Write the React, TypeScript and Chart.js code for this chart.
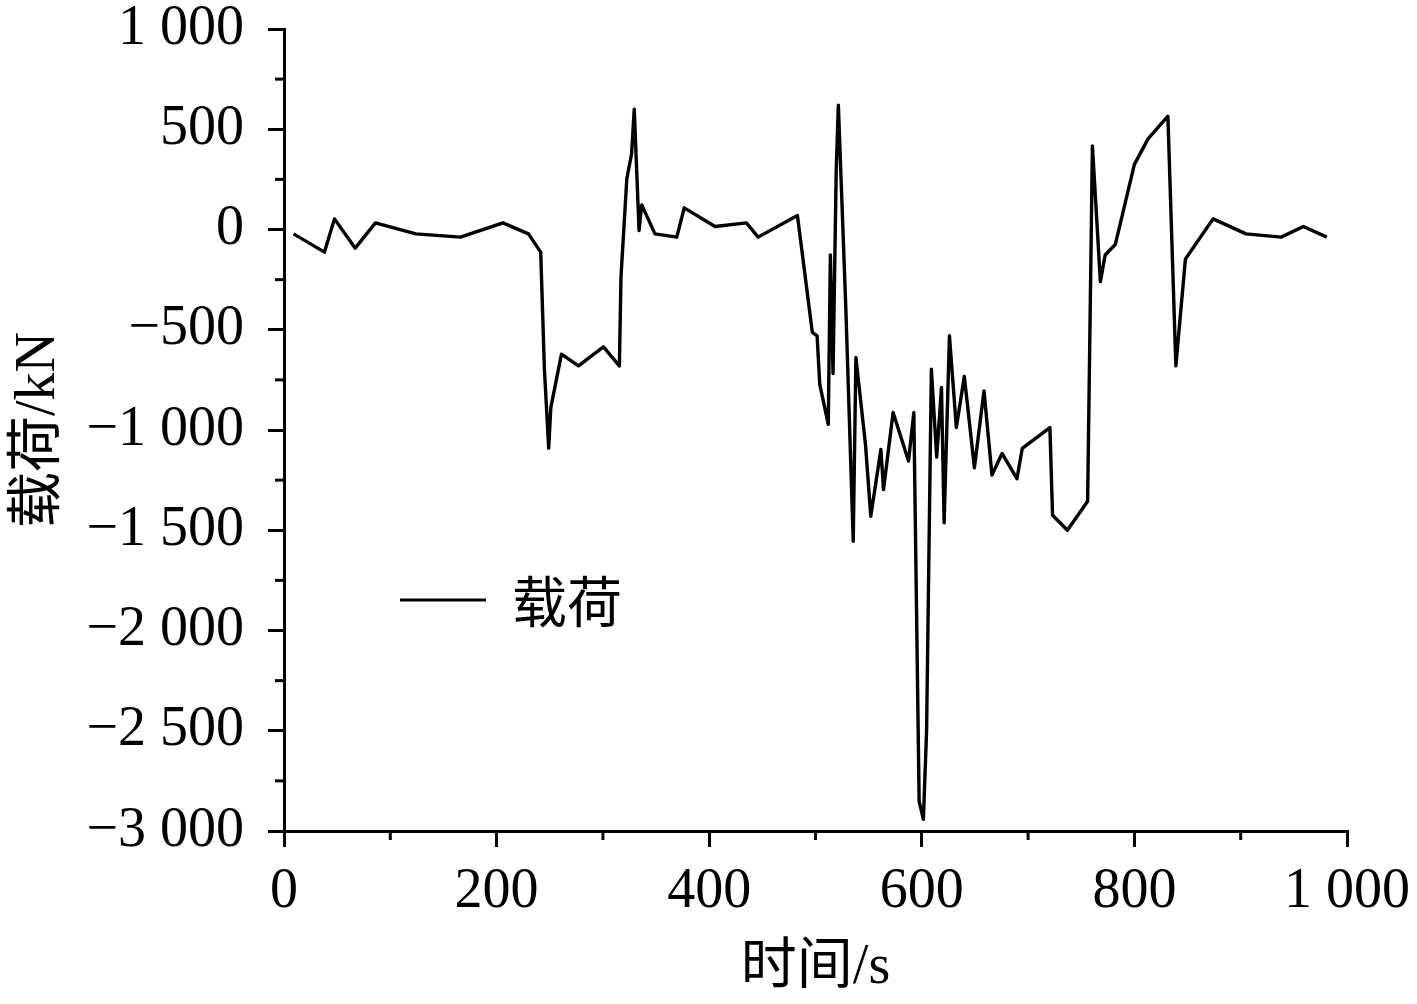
import React, { useEffect, useRef } from "react";
import { Chart, registerables } from "chart.js";

Chart.register(...registerables);

// time (s)
const times = [
  9, 38, 47.5, 67, 86, 124, 166, 206, 230, 241.5, 245, 249, 251, 261, 277, 300.5, 315.5, 317, 322.5, 327, 329.5,
  334, 336.5, 349, 369.5, 376.5, 405.5, 435, 446, 483, 497, 501.5, 504, 512, 514, 516.5, 519.5, 521.5, 528.5,
  535.5, 538, 547, 552, 561.5, 564, 573, 587.5, 592.5, 597.5, 601.5, 604.5, 609, 614, 618.5, 621, 626, 632.5,
  640, 649.5, 658.5, 666, 675.5, 689.5, 694.5, 720.5, 723, 737, 756, 760.5, 768, 772.5, 782, 800, 813, 831.5,
  839, 848, 874, 905, 938, 959, 981,
];
// load (kN)
const loads = [
  -22, -113, 53, -93, 33, -22, -38, 33, -22, -113, -700, -1090, -888, -622, -680, -585, -680, -238, 253, 378, 600,
  -5, 123, -22, -38, 108, 15, 33, -38, 70, -513, -530, -772, -972, -127, -718, 300, 620, -388,
  -1555, -638, -1072, -1430, -1097, -1297, -913, -1155, -913, -2852, -2942, -2500, -697, -1135, -788, -1463, -530, -988,
  -733, -1188, -805, -1225, -1117, -1243, -1092, -988, -1425, -1500, -1355, 417, -260, -127, -75, 325, 453, 565,
  -680, -147, 53, -22, -38, 15, -38,
];

const seriesLabel = "载荷";
const xTitle = "时间/s";
const yTitle = "载荷/kN";
const xTicks = [0, 200, 400, 600, 800, 1000];
const yTicks = [1000, 500, 0, -500, -1000, -1500, -2000, -2500, -3000];
const xMinorTicks = [100, 300, 500, 700, 900];
const yMinorTicks = [750, 250, -250, -750, -1250, -1750, -2250, -2750];

const FONT = "'Liberation Serif', 'Noto Sans CJK SC', serif";

function fmt(v: number): string {
  const neg = v < 0;
  const a = Math.abs(v);
  let s = String(a);
  if (a >= 1000) {
    s = String(Math.floor(a / 1000)) + " " + String(a % 1000).padStart(3, "0");
  }
  return (neg ? "\u2212" : "") + s;
}

const extrasPlugin = {
  id: "extras",
  afterDraw(chart: any) {
    const { ctx, chartArea } = chart;
    const xs = chart.scales.x;
    const ys = chart.scales.y;
    ctx.save();
    ctx.strokeStyle = "#000";
    ctx.lineWidth = 3;
    for (const v of xMinorTicks) {
      const px = xs.getPixelForValue(v);
      ctx.beginPath();
      ctx.moveTo(px, chartArea.bottom);
      ctx.lineTo(px, chartArea.bottom + 9);
      ctx.stroke();
    }
    for (const v of yMinorTicks) {
      const py = ys.getPixelForValue(v);
      ctx.beginPath();
      ctx.moveTo(chartArea.left, py);
      ctx.lineTo(chartArea.left - 9, py);
      ctx.stroke();
    }
    // legend
    const ds = chart.data.datasets[0];
    const lx = chartArea.left + 116;
    const ly = chartArea.top + 571;
    ctx.lineWidth = 3.2;
    ctx.beginPath();
    ctx.moveTo(lx, ly);
    ctx.lineTo(lx + 86, ly);
    ctx.stroke();
    ctx.fillStyle = "#000";
    ctx.font = `55px ${FONT}`;
    ctx.textBaseline = "middle";
    ctx.textAlign = "left";
    ctx.fillText(ds.label, lx + 112, ly + 8);
    ctx.restore();
  },
};

export default function App() {
  const ref = useRef<HTMLCanvasElement | null>(null);
  useEffect(() => {
    if (!ref.current) return;
    const points = times.map((t, i) => ({ x: t, y: loads[i] }));
    const chart = new Chart(ref.current, {
      type: "line",
      data: {
        datasets: [
          {
            label: seriesLabel,
            data: points,
            borderColor: "#000",
            borderWidth: 3.4,
            borderJoinStyle: "round",
            pointRadius: 0,
            tension: 0,
            fill: false,
          },
        ],
      },
      options: {
        animation: false,
        responsive: false,
        maintainAspectRatio: false,
        layout: { padding: { top: 29, right: 70, left: 0, bottom: 0 } },
        plugins: { legend: { display: false }, tooltip: { enabled: false } },
        scales: {
          x: {
            type: "linear",
            min: 0,
            max: 1000,
            afterFit: (s: any) => {
              s.height = 173;
              s.paddingLeft = 0;
              s.paddingRight = 0;
            },
            afterBuildTicks: (s: any) => {
              s.ticks = xTicks.map((v) => ({ value: v }));
            },
            grid: { drawOnChartArea: false, drawTicks: true, tickLength: 16, lineWidth: 3, color: "#000" },
            border: { display: true, color: "#000", width: 3 },
            ticks: {
              color: "#000",
              font: { family: FONT, size: 56 },
              padding: 12,
              maxRotation: 0,
              autoSkip: false,
              callback: (v: any) => fmt(Number(v)),
            },
            title: {
              display: true,
              text: xTitle,
              color: "#000",
              font: { family: FONT, size: 56 },
              padding: { top: 0, bottom: 2 },
            },
          },
          y: {
            type: "linear",
            min: -3000,
            max: 1000,
            afterFit: (s: any) => {
              s.width = 284;
              s.paddingTop = 0;
              s.paddingBottom = 0;
            },
            afterBuildTicks: (s: any) => {
              s.ticks = yTicks.map((v) => ({ value: v }));
            },
            grid: { drawOnChartArea: false, drawTicks: true, tickLength: 16, lineWidth: 3, color: "#000" },
            border: { display: true, color: "#000", width: 3 },
            ticks: {
              color: "#000",
              font: { family: FONT, size: 56 },
              padding: 24,
              autoSkip: false,
              callback: (v: any) => fmt(Number(v)),
            },
            title: {
              display: true,
              text: yTitle,
              color: "#000",
              font: { family: FONT, size: 56 },
              padding: { top: 6, bottom: 0 },
            },
          },
        },
      },
      plugins: [extrasPlugin],
    });
    return () => chart.destroy();
  }, []);
  return (
    <div style={{ position: "absolute", left: 0, top: 0, width: 1417, height: 1004, background: "#fff" }}>
      <canvas ref={ref} width={1417} height={1004} style={{ width: 1417, height: 1004 }} />
    </div>
  );
}
